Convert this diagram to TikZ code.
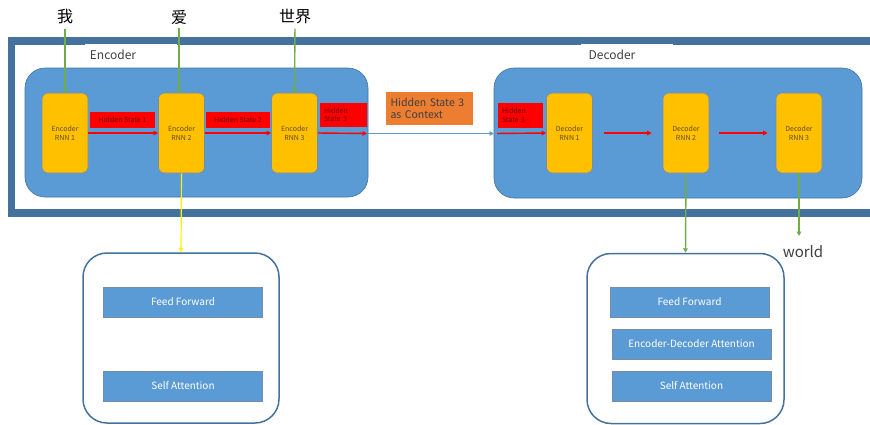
\documentclass[tikz,border=0pt]{standalone}
\usepackage{fontspec}
\setmainfont{Noto Sans CJK SC}
\usetikzlibrary{arrows.meta}
\definecolor{frameblue}{RGB}{68,114,156}
\definecolor{fillblue}{RGB}{91,155,213}
\definecolor{rnnyellow}{RGB}{255,192,0}
\definecolor{ctxorange}{RGB}{237,125,49}
\definecolor{arrowgreen}{RGB}{112,173,71}
\definecolor{rnntext}{RGB}{100,78,10}
\definecolor{hstext}{RGB}{110,0,0}
\definecolor{layerborder}{RGB}{120,140,165}
\definecolor{darktext}{RGB}{64,64,64}
\tikzset{
  tip/.style={-{Triangle[width=4.5pt,length=4.5pt]}},
  bigpanel/.style={draw=frameblue,line width=0.6pt,fill=fillblue,rounded corners=20pt,inner sep=0pt},
  rnnbox/.style={draw=layerborder,line width=0.6pt,fill=rnnyellow,rounded corners=6pt,minimum width=46pt,minimum height=80pt,inner sep=0pt,align=center,text=rnntext,font=\fontsize{7}{9}\selectfont},
  hsbox/.style={fill=red,inner sep=0pt,text=hstext,font=\fontsize{7}{8.5}\selectfont},
  layerbox/.style={draw=frameblue,line width=1.5pt,fill=white,rounded corners=24pt,minimum width=196pt,minimum height=170pt,inner sep=0pt},
  sublayer/.style={draw=layerborder,line width=0.8pt,fill=fillblue,minimum width=159pt,minimum height=30pt,inner sep=0pt,text=white,font=\fontsize{10}{12}\selectfont},
  word/.style={inner sep=0pt,font=\fontsize{16}{19}\selectfont},
  titlelbl/.style={fill=white,inner sep=0pt,minimum width=92pt,minimum height=22pt,font=\fontsize{12}{14}\selectfont,text=darktext},
  redarrow/.style={red,line width=1.4pt,tip},
  greenarrow/.style={arrowgreen,line width=1.4pt,tip},
}
\begin{document}
\begin{tikzpicture}[x=1pt,y=-1pt]
\useasboundingbox (0,0) rectangle (870,424);
\fill[white] (0,0) rectangle (870,424);
% outer frame
\draw[frameblue,line width=7.5pt] (890,41) -- (11.5,41) -- (11.5,213) -- (890,213);
% titles
\node[titlelbl] (enctitle) at (131,55) {\hspace*{-36pt}Encoder};
\node[titlelbl] (dectitle) at (627,55) {\hspace*{-30pt}Decoder};
% big panels
\node[bigpanel,minimum width=343pt,minimum height=129pt] (encpanel) at (196.5,132.5) {};
\node[bigpanel,minimum width=368pt,minimum height=130pt] (decpanel) at (678,133) {};
% RNN boxes
\node[rnnbox] (e1) at (65,133) {Encoder\\RNN 1};
\node[rnnbox] (e2) at (181.5,133) {Encoder\\RNN 2};
\node[rnnbox] (e3) at (294.5,133) {Encoder\\RNN 3};
\node[rnnbox] (d1) at (569.5,133) {Decoder\\RNN 1};
\node[rnnbox] (d2) at (686,133) {Decoder\\RNN 2};
\node[rnnbox] (d3) at (799,133) {Decoder\\RNN 3};
% hidden state labels
\node[hsbox,minimum width=65pt,minimum height=16pt] (hs1) at (122.5,120) {Hidden State 1};
\node[hsbox,minimum width=64pt,minimum height=16pt] (hs2) at (238,120) {Hidden State 2};
\node[hsbox,minimum width=47pt,minimum height=24pt,text width=39pt,align=left] (hs3) at (343.5,115) {Hidden\\State 3};
\node[hsbox,minimum width=45pt,minimum height=25pt,text width=37pt,align=left] (hs3d) at (520.5,115.5) {Hidden\\State 3};
% context box
\node[fill=ctxorange,minimum width=87pt,minimum height=33pt,inner sep=0pt,text width=78pt,align=left,text=darktext,font=\fontsize{10.5}{12.5}\selectfont] (ctx) at (429.5,108.5) {\mbox{Hidden State 3}\\as Context};
% input words
\node[word] (w1) at (65,17) {我};
\node[word] (w2) at (179,17) {爱};
\node[word] (w3) at (295,17) {世界};
\node[inner sep=0pt,font=\fontsize{15}{17}\selectfont,text=darktext] (world) at (803,252) {world};
% layer boxes
\node[layerbox] (enclayer) at (181,338) {};
\node[sublayer] (encff) at (183,302) {Feed Forward};
\node[sublayer] (encsa) at (183,386) {Self Attention};
\node[layerbox,minimum width=197pt] (declayer) at (685.5,338.5) {};
\node[sublayer] (decff) at (689.5,302) {Feed Forward};
\node[sublayer] (decea) at (691.5,344) {Encoder-Decoder Attention};
\node[sublayer] (decsa) at (691.5,386) {Self Attention};
% coordinates
\coordinate (encout) at (368,133.5);
\coordinate (decin) at (494,133.5);
\coordinate (worldtop) at (799,236);
% input arrows
\draw[greenarrow,shorten <=4pt] (w1.south) -- (e1.north);
\draw[greenarrow,shorten <=4pt] (w2.south) -- (w2.south |- e2.north);
\draw[greenarrow,shorten <=4pt] (w3.south) -- (e3.north);
% red encoder chain
\draw[redarrow] (e1.east) -- (e2.west);
\draw[redarrow] (e2.east) -- (e3.west);
\draw[redarrow,shorten >=1pt] (e3.east) -- (encout);
% context line
\draw[fillblue,line width=1.2pt,tip] (encout) -- (decin);
\draw[redarrow,shorten <=3pt] (decin) -- (d1.west);
\draw[redarrow,shorten <=11pt,shorten >=11pt] (d1.east) -- (d2.west);
\draw[redarrow,shorten <=10pt,shorten >=8pt] (d2.east) -- (d3.west);
% outputs
\draw[yellow,line width=1.2pt,tip] (e2.south) -- (enclayer.north);
\draw[greenarrow] (d2.south) -- (declayer.north);
\draw[greenarrow] (d3.south) -- (worldtop);
\end{tikzpicture}
\end{document}
